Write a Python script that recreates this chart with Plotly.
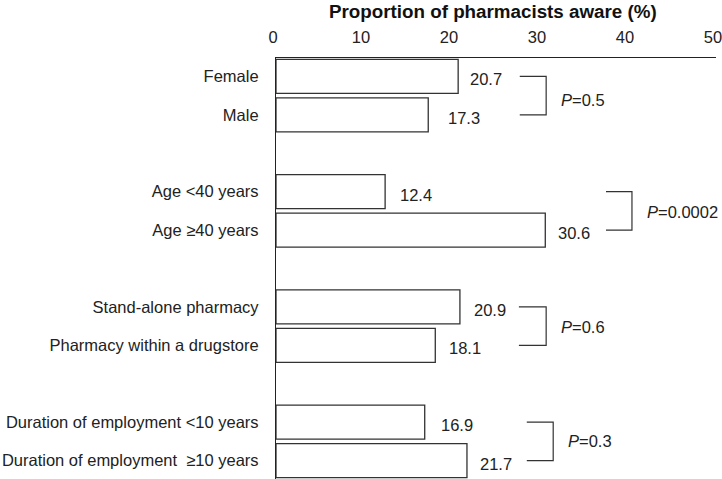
import plotly.graph_objects as go

categories = ["Female", "Male", "Age <40 years", "Age \u226540 years",
              "Stand-alone pharmacy", "Pharmacy within a drugstore",
              "Duration of employment <10 years", "Duration of employment  \u226510 years"]
values = [20.7, 17.3, 12.4, 30.6, 20.9, 18.1, 16.9, 21.7]
value_labels = ["20.7", "17.3", "12.4", "30.6", "20.9", "18.1", "16.9", "21.7"]
p_values = ["0.5", "0.0002", "0.6", "0.3"]
x_ticks = [0, 10, 20, 30, 40, 50]

# layout / style (not data)
positions = [0, 1, 3, 4, 6, 7, 9, 10]
label_dx = [10, 18, 13, 11, 12, 12, 14, 11]
bracket_x = [(27.7, 30.7), (37.5, 40.45), (27.6, 30.7), (28.5, 31.5)]
p_dy = [-4, -1, -1, 0]
FONT = "Liberation Sans, Arial, sans-serif"

fig = go.Figure()
fig.add_trace(go.Bar(
    x=values, y=positions, orientation="h", width=0.885,
    marker=dict(color="white", line=dict(color="#333333", width=1.3)),
    hoverinfo="skip",
))

for v, p, t, dx in zip(values, positions, value_labels, label_dx):
    fig.add_annotation(x=v, y=p, text=t, showarrow=False, xanchor="left",
                       xshift=dx, yshift=-3, font=dict(size=16.5, color="#222", family=FONT))

for i, pv in enumerate(p_values):
    y0, y1 = positions[2 * i], positions[2 * i + 1]
    xa, xb = bracket_x[i]
    fig.add_shape(type="path",
                  path=f"M {xa} {y0} L {xb} {y0} L {xb} {y1} L {xa} {y1}",
                  xref="x", yref="y", line=dict(color="#333333", width=1.2))
    fig.add_annotation(x=xb, y=(y0 + y1) / 2, text=f"<i>P</i>={pv}", showarrow=False,
                       xanchor="left", xshift=13, yshift=p_dy[i],
                       font=dict(size=16.5, color="#222", family=FONT))

fig.add_annotation(xref="paper", yref="paper", x=0.494, y=1 + (58 - 11) / 421,
                   text="<b>Proportion of pharmacists aware (%)</b>", showarrow=False,
                   xanchor="center", yanchor="middle",
                   font=dict(size=18.8, color="#111", family=FONT))

fig.update_layout(
    width=722, height=479,
    margin=dict(l=276, r=6, t=58, b=0, autoexpand=False),
    paper_bgcolor="white", plot_bgcolor="white",
    showlegend=False,
    font=dict(family=FONT, size=16.5, color="#222"),
    xaxis=dict(side="top", range=[0, 50], tickvals=x_ticks, ticktext=[str(t) for t in x_ticks],
               showgrid=False, zeroline=False, showline=True, linecolor="#222", linewidth=1.2,
               ticks="", ticklabelstandoff=7, ticklabelshift=-3, ticklabeloverflow="allow",
               automargin=False, tickfont=dict(size=16.5, family=FONT)),
    yaxis=dict(range=[10.48, -0.48], tickvals=positions, ticktext=categories,
               showgrid=False, zeroline=False, showline=True, linecolor="#222", linewidth=1.2,
               ticks="", ticklabelstandoff=13, automargin=False,
               tickfont=dict(size=16.5, family=FONT)),
)

fig.write_html("out.html", config={"displayModeBar": False},
               post_script="document.body.style.margin='0';document.body.style.overflow='hidden';")
